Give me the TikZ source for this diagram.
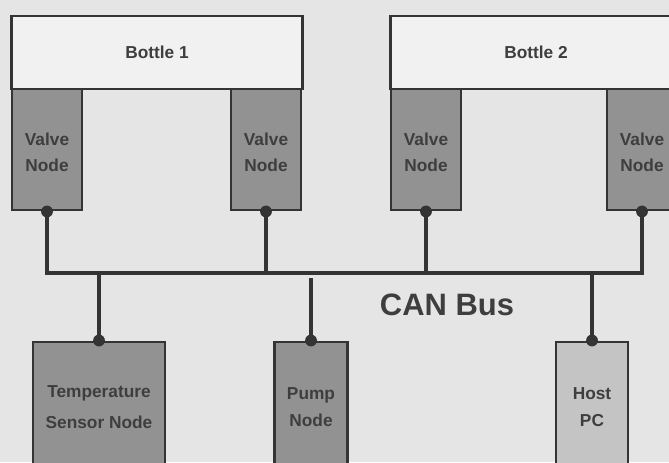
\documentclass[tikz,border=0pt]{standalone}
\usepackage{fontspec}
\setmainfont{Liberation Sans}
\usepackage{tikz}
\usetikzlibrary{positioning, calc}

\definecolor{paper}{RGB}{229,229,229}
\definecolor{edge}{RGB}{52,52,52}
\definecolor{ink}{RGB}{62,62,62}
\definecolor{bottlefill}{RGB}{241,241,241}
\definecolor{nodefill}{RGB}{146,146,146}
\definecolor{hostfill}{RGB}{196,196,196}

\begin{document}
\begin{tikzpicture}[x=0.025cm, y=-0.025cm,
    box/.style={draw=edge, line width=2.1pt, text=ink, align=center,
                font=\bfseries\fontsize{12.3}{19}\selectfont, inner sep=0pt},
    bottle/.style={box, fill=bottlefill, minimum width=7.25cm, minimum height=1.825cm},
    valve/.style={box, fill=nodefill, minimum width=1.75cm, minimum height=3.025cm},
    device/.style={box, minimum height=3.25cm},
    bus/.style={draw=edge, line width=2.8pt},
    dot/.style={fill=edge}]
  \useasboundingbox (0,0) rectangle (669,462);
  \fill[paper] (0,0) rectangle (669,462);
  \clip (0,0) rectangle (669,462);

  % Bottles with their valve nodes
  \node[bottle] (b1) at (157,52.5) {Bottle 1};
  \node[bottle] (b2) at (536,52.5) {Bottle 2};
  \node[valve] (v1a) at (47,149.5) {\rule{0pt}{0.45cm}Valve\\Node};
  \node[valve] (v1b) at (266,149.5) {\rule{0pt}{0.45cm}Valve\\Node};
  \node[valve] (v2a) at (426,149.5) {\rule{0pt}{0.45cm}Valve\\Node};
  \node[valve] (v2b) at (642,149.5) {\rule{0pt}{0.45cm}Valve\\Node};

  % Nodes on the lower side of the bus
  \node[device, fill=nodefill, minimum width=3.3cm,
        font=\bfseries\fontsize{12.3}{22.5}\selectfont] (temp) at (99,407) {Temperature\\Sensor Node};
  \node[device, fill=nodefill, minimum width=1.825cm] (pump) at (311,407) {Pump\\Node};
  \node[device, fill=hostfill, minimum width=1.8cm] (host) at (592,407) {Host\\PC};

  % CAN bus
  \coordinate (busy) at (0,273);
  \coordinate (pumpgap) at (0,278);
  \draw[bus] (v1a.south) -- (v1a.south |- busy) -- (v2b.south |- busy) -- (v2b.south);
  \draw[bus] (v1b.south) -- (v1b.south |- busy);
  \draw[bus] (v2a.south) -- (v2a.south |- busy);
  \draw[bus] (temp.north) -- (temp.north |- busy);
  \draw[bus] (pump.north) -- (pump.north |- pumpgap);
  \draw[bus] (host.north) -- (host.north |- busy);
  \node[text=ink, font=\bfseries\fontsize{22}{24}\selectfont] (canbus) at (447,305) {CAN Bus};

  % junction dots
  \foreach \n in {v1a,v1b,v2a,v2b} {
    \fill[dot] (\n.south) circle (4.2pt);
  }
  \foreach \n in {temp,pump,host} {
    \fill[dot] (\n.north) circle (4.2pt);
  }
\end{tikzpicture}
\end{document}
